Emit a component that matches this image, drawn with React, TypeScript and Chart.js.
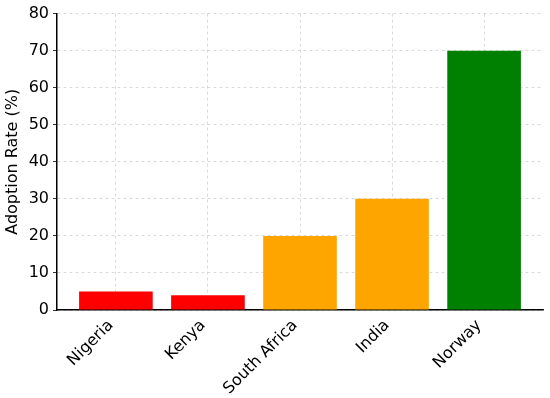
import React, { useEffect, useRef } from "react";
import { Chart, registerables } from "chart.js";

Chart.register(...registerables);

const categories = ["Nigeria", "Kenya", "South Africa", "India", "Norway"];
const adoptionRates = [5, 4, 20, 30, 70];
const barColors = ["#ff0000", "#ff0000", "#ffa500", "#ffa500", "#008000"];
const yTicks = [0, 10, 20, 30, 40, 50, 60, 70, 80];

const FONT = "'DejaVu Sans', sans-serif";

export default function App() {
  const ref = useRef<HTMLCanvasElement | null>(null);
  useEffect(() => {
    if (!ref.current) return;
    const chart = new Chart(ref.current, {
      type: "bar",
      data: {
        datasets: [
          {
            data: adoptionRates.map((v, i) => ({ x: i, y: v })),
            backgroundColor: barColors,
            borderWidth: 0,
            barPercentage: 0.8,
            categoryPercentage: 1,
          },
        ],
      },
      options: {
        animation: false,
        responsive: false,
        maintainAspectRatio: false,
        layout: { padding: { top: 10, right: 7, left: 0, bottom: 0 } },
        plugins: { legend: { display: false }, tooltip: { enabled: false } },
        scales: {
          x: {
            type: "linear",
            min: -0.64,
            max: 4.64,
            offset: false,
            z: 1,
            afterBuildTicks: (scale: any) => {
              scale.ticks = categories.map((_, i) => ({ value: i }));
            },
            afterFit: (scale: any) => {
              scale.height = 88;
            },
            ticks: {
              autoSkip: false,
              minRotation: 45,
              maxRotation: 45,
              color: "#000",
              font: { family: FONT, size: 16 },
              padding: 6,
              labelOffset: -5,
              callback: (v: any) => categories[Math.round(Number(v))] ?? "",
            },
            grid: {
              offset: false,
              color: "rgba(176,176,176,0.6)",
              lineWidth: 0.8,
              drawTicks: false,
            } as any,
            border: { display: true, color: "#000", width: 1.5, dash: [3, 3] } as any,
          },
          y: {
            min: 0,
            max: 80,
            z: 1,
            afterBuildTicks: (scale: any) => {
              scale.ticks = yTicks.map((v) => ({ value: v }));
            },
            afterFit: (scale: any) => {
              scale.width = 57;
            },
            ticks: {
              color: "#000",
              font: { family: FONT, size: 16 },
              padding: 4,
            },
            grid: {
              color: "rgba(176,176,176,0.6)",
              lineWidth: 0.8,
              drawTicks: true,
              tickLength: 4,
              tickColor: "#000",
              tickBorderDash: [],
            } as any,
            border: { display: true, color: "#000", width: 1.5, dash: [3, 3] } as any,
            title: {
              display: true,
              text: "Adoption Rate (%)",
              color: "#000",
              font: { family: FONT, size: 16 },
              padding: { top: 3, bottom: 0 },
            },
          },
        },
      } as any,
    });
    return () => chart.destroy();
  }, []);
  return (
    <div style={{ position: "fixed", left: 0, top: 0, width: 550, height: 398, background: "#fff" }}>
      <canvas ref={ref} width={550} height={398} style={{ width: 550, height: 398 }} />
    </div>
  );
}
